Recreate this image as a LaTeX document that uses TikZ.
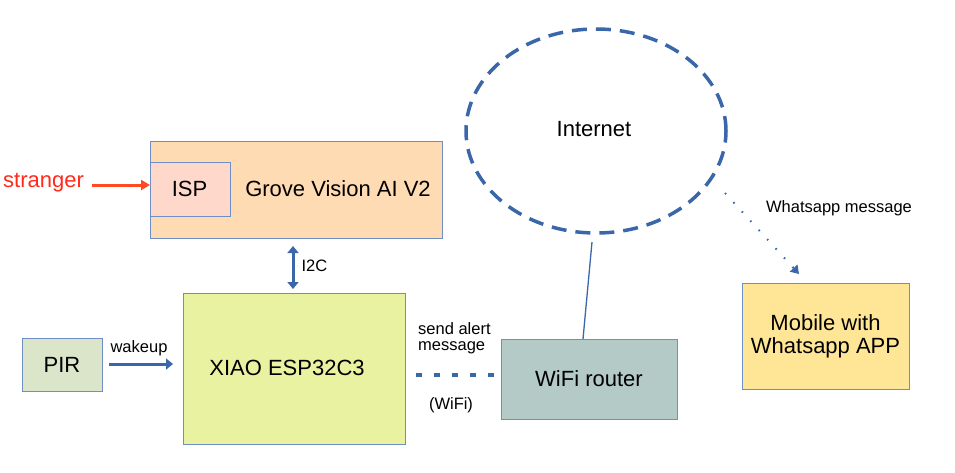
\documentclass[tikz,border=0pt]{standalone}
\usepackage{fontspec}
\setmainfont{Liberation Sans}
\usetikzlibrary{arrows.meta,shapes.geometric}
\definecolor{bord}{HTML}{6F8FC4}
\definecolor{grovefill}{HTML}{FFDBB4}
\definecolor{ispfill}{HTML}{FFD8CC}
\definecolor{xiaofill}{HTML}{E8F2A1}
\definecolor{pirfill}{HTML}{DAE5C9}
\definecolor{routerfill}{HTML}{B3CAC6}
\definecolor{mobilefill}{HTML}{FFE697}
\definecolor{linkblue}{HTML}{3A67AA}
\definecolor{strred}{HTML}{FF2A1A}
\definecolor{strarrow}{HTML}{FF4A22}
\tikzset{
  box/.style={draw=bord, line width=1pt, inner sep=0pt, outer sep=0pt},
  big/.style={font=\fontsize{22}{25}\selectfont},
  small/.style={font=\fontsize{16.5}{19}\selectfont},
  link/.style={draw=linkblue, line width=3pt},
}
\begin{document}
\begin{tikzpicture}[x=1pt,y=-1pt]
\useasboundingbox (0,0) rectangle (955,472);
% boxes
\node[box, fill=grovefill, minimum width=292pt, minimum height=97pt] (grove) at (296,189.5) {};
\node[box, fill=ispfill, minimum width=80pt, minimum height=54pt] (isp) at (190,189) {};
\node[big] (isptxt) at (189.5,189) {ISP};
\node[big] (grovetxt) at (338,189) {Grove Vision AI V2};
\node[box, fill=xiaofill, minimum width=222pt, minimum height=151pt] (xiao) at (294,368.5) {};
\node[big] (xiaotxt) at (287,368) {XIAO ESP32C3};
\node[box, fill=pirfill, minimum width=80pt, minimum height=53pt] (pir) at (62,364.5) {};
\node[big] at (pir) {PIR};
\node[box, fill=routerfill, minimum width=176pt, minimum height=80pt] (router) at (589,379) {};
\node[big] at (router) {WiFi router};
\node[box, fill=mobilefill, minimum width=167pt, minimum height=106pt] (mobile) at (825.5,336) {};
\node[big, align=center] at (mobile) {Mobile with\\[-2pt]Whatsapp APP};
% internet
\node[draw=linkblue, line width=3.5pt, dash pattern=on 15pt off 9pt, ellipse, minimum width=260pt, minimum height=204pt, inner sep=0pt] (inet) at (596,131) {};
\node[big] (inettxt) at (594,129) {Internet};
% stranger
\node[big, text=strred, anchor=west, inner sep=0pt] (stranger) at (3,183) {stranger};
\draw[draw=strarrow, line width=3pt, -{Triangle[length=9pt,width=10pt]}] (92,185) -- (isp.west |- 0,185);
% I2C
\draw[link, {Triangle[length=7pt,width=11pt]}-{Triangle[length=7pt,width=11pt]}] (grove.south -| 293,0) ++(0,8) coordinate (i2a) -- (293,289) coordinate (i2b);
\node[small, anchor=west] (i2c) at (298,266) {I2C};
% wakeup
\coordinate (wkA) at (109,364);
\draw[link, -{Triangle[length=7pt,width=11pt]}] (wkA) -- (173,364);
\node[small] (wk) at (139,348) {wakeup};
% wifi link
\draw[draw=linkblue, line width=3.5pt, dash pattern=on 6pt off 12pt] (416,375) -- (router.west |- 0,375);
\node[small, align=left, anchor=north west, inner sep=0pt] (alert) at (418,322) {send alert\\[-3pt]message};
\node[small] (wifi) at (451,405) {(WiFi)};
% router to internet
\draw[draw=linkblue, line width=1.3pt] (router.north -| 583,0) -- (592,242);
% whatsapp
\draw[draw=linkblue, line width=2pt, dash pattern=on 1.5pt off 11pt, -{Triangle[length=8pt,width=10pt,sep=0pt]}] (725,193) -- (799,274);
\node[small] (wa) at (839,208) {Whatsapp message};
\end{tikzpicture}
\end{document}
